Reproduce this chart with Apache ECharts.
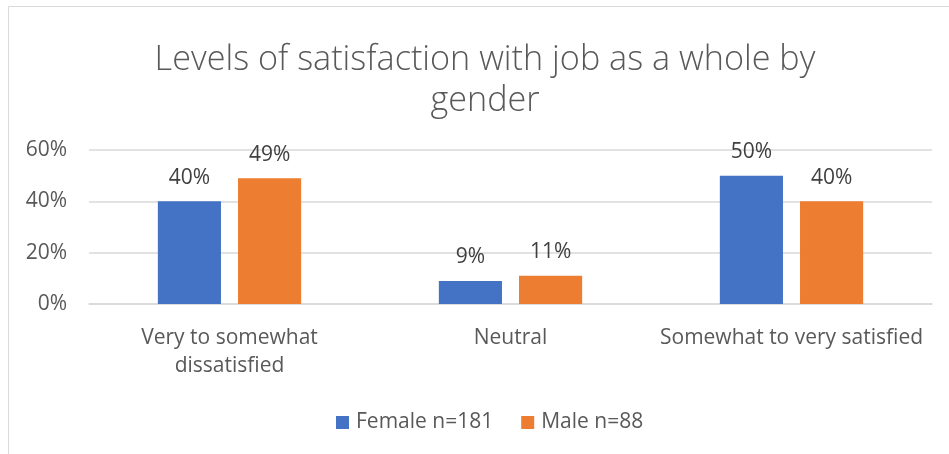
<!DOCTYPE html>
<html><head><meta charset="utf-8">
<script src="https://cdn.jsdelivr.net/npm/echarts@6/dist/echarts.min.js"></script>
<style>html,body{margin:0;padding:0;background:#fff}#c{width:949px;height:454px}</style>
</head><body><div id="c"></div>
<script>
const titleText = "Levels of satisfaction with job as a whole by\ngender";
const categories = ["Very to somewhat\ndissatisfied", "Neutral", "Somewhat to very satisfied"];
const seriesNames = ["Female n=181", "Male n=88"];
const femaleValues = [40, 9, 50];
const maleValues = [49, 11, 40];
const yTicks = [0, 20, 40, 60];
const colors = ["#4472C4", "#ED7D31"];
const FONT = "Open Sans";

const chart = echarts.init(document.getElementById('c'), null, {renderer: 'canvas'});
const labelCfg = {show: true, position: 'top', distance: 13, formatter: p => p.value + '%', color: '#404040', fontSize: 21, fontFamily: FONT};
chart.setOption({
  animation: false,
  graphic: [{type: 'rect', shape: {x: 8.5, y: 6.5, width: 1000, height: 1000}, style: {fill: 'none', stroke: '#d9d9d9', lineWidth: 1}, silent: true, z: -1}],
  title: {text: titleText, left: 480, textAlign: 'center', top: 35, textStyle: {fontFamily: FONT, fontWeight: 300, fontSize: 34.2, color: '#595959', lineHeight: 41}},
  grid: {left: 89, right: 17, top: 150, bottom: 150, containLabel: false},
  legend: {bottom: 16, left: 331, itemWidth: 13, itemHeight: 13, itemGap: 28, icon: 'rect',
    textStyle: {fontFamily: FONT, fontSize: 21, color: '#595959', padding: [0, 0, 0, 2]}, data: seriesNames},
  xAxis: {type: 'category', data: categories, axisTick: {show: false},
    axisLine: {lineStyle: {color: '#d9d9d9', width: 1.5}},
    axisLabel: {fontFamily: FONT, fontSize: 21, color: '#595959', margin: 20, lineHeight: 28, interval: 0}},
  yAxis: {type: 'value', min: yTicks[0], max: yTicks[yTicks.length-1], interval: 20,
    axisLabel: {formatter: '{value}%', fontFamily: FONT, fontSize: 21, color: '#595959', margin: 22},
    splitLine: {lineStyle: {color: '#d9d9d9', width: 1.5}}, axisLine: {show: false}},
  series: [
    {name: seriesNames[0], type: 'bar', data: femaleValues, itemStyle: {color: colors[0]}, barGap: '27%', barCategoryGap: '49%', label: labelCfg},
    {name: seriesNames[1], type: 'bar', data: maleValues, itemStyle: {color: colors[1]}, label: labelCfg}
  ]
});
</script></body></html>
